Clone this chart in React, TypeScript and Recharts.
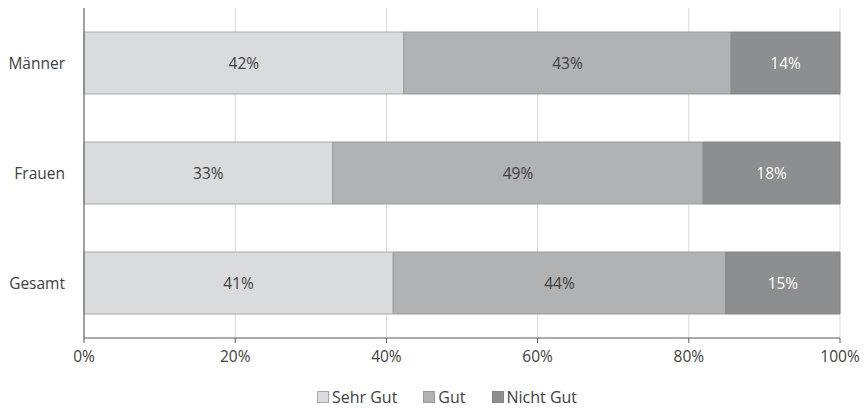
import { BarChart, Bar, XAxis, YAxis, CartesianGrid, Legend, LabelList } from 'recharts'

const CATEGORIES = ['Männer', 'Frauen', 'Gesamt']
const SEHR_GUT = [42.3, 32.9, 40.9]
const GUT = [43.3, 49.0, 44.0]
const NICHT_GUT = [14.4, 18.1, 15.1]
const X_TICKS = [0, 20, 40, 60, 80, 100]

const SERIES = [
  { key: 'sehrGut', name: 'Sehr Gut', fill: '#dadbdc', stroke: '#a9aaab', text: '#404040' },
  { key: 'gut', name: 'Gut', fill: '#b1b2b3', stroke: '#9a9b9c', text: '#404040' },
  { key: 'nichtGut', name: 'Nicht Gut', fill: '#8d8e90', stroke: '#838486', text: '#ffffff' },
]

const FONT = '"Open Sans", sans-serif'
const FS = 15.5

const data = CATEGORIES.map((label, i) => ({
  label,
  sehrGut: SEHR_GUT[i],
  gut: GUT[i],
  nichtGut: NICHT_GUT[i],
}))

function LegendContent() {
  return (
    <div
      style={{
        height: 42,
        display: 'flex',
        justifyContent: 'center',
        alignItems: 'flex-end',
        paddingBottom: 2,
        paddingLeft: 54,
        boxSizing: 'border-box',
        fontFamily: FONT,
        fontSize: 16,
        color: '#404040',
      }}
    >
      {SERIES.map(s => (
        <div key={s.key} style={{ display: 'flex', alignItems: 'center', marginRight: 13, marginLeft: 13 }}>
          <span
            style={{
              display: 'inline-block',
              width: 10,
              height: 10,
              background: s.fill,
              border: `1px solid ${s.stroke}`,
              marginRight: 3,
            }}
          />
          <span>{s.name}</span>
        </div>
      ))}
    </div>
  )
}

export default function App() {
  return (
    <div style={{ position: 'absolute', left: 0, top: 0, width: 865, height: 410, background: '#fff' }}>
      <BarChart
        width={865}
        height={410}
        data={data}
        layout="vertical"
        margin={{ top: 8, right: 25, left: 0, bottom: 0 }}
        barCategoryGap={24}
      >
        <CartesianGrid horizontal={false} stroke="#d9d9d9" />
        <XAxis
          type="number"
          domain={[0, 100]}
          ticks={X_TICKS}
          tickFormatter={(v: number) => `${v}%`}
          height={30}
          tick={{ fontSize: FS, fill: '#404040', fontFamily: FONT }}
          tickLine={{ stroke: '#595959' }}
          axisLine={{ stroke: '#595959' }}
          tickSize={5}
          tickMargin={8}
          interval={0}
        />
        <YAxis
          type="category"
          dataKey="label"
          width={84}
          tick={{ fontSize: FS, fill: '#404040', fontFamily: FONT }}
          tickLine={false}
          axisLine={{ stroke: '#595959' }}
          tickMargin={13}
        />
        <Legend verticalAlign="bottom" height={42} content={() => <LegendContent />} />
        {SERIES.map(s => (
          <Bar
            key={s.key}
            dataKey={s.key}
            name={s.name}
            stackId="a"
            fill={s.fill}
            stroke={s.stroke}
            strokeWidth={1}
            isAnimationActive={false}
          >
            <LabelList
              dataKey={s.key}
              position="center"
              formatter={(v: number) => `${Math.round(v)}%`}
              style={{ fontSize: FS, fill: s.text, fontFamily: FONT }}
            />
          </Bar>
        ))}
      </BarChart>
    </div>
  )
}
